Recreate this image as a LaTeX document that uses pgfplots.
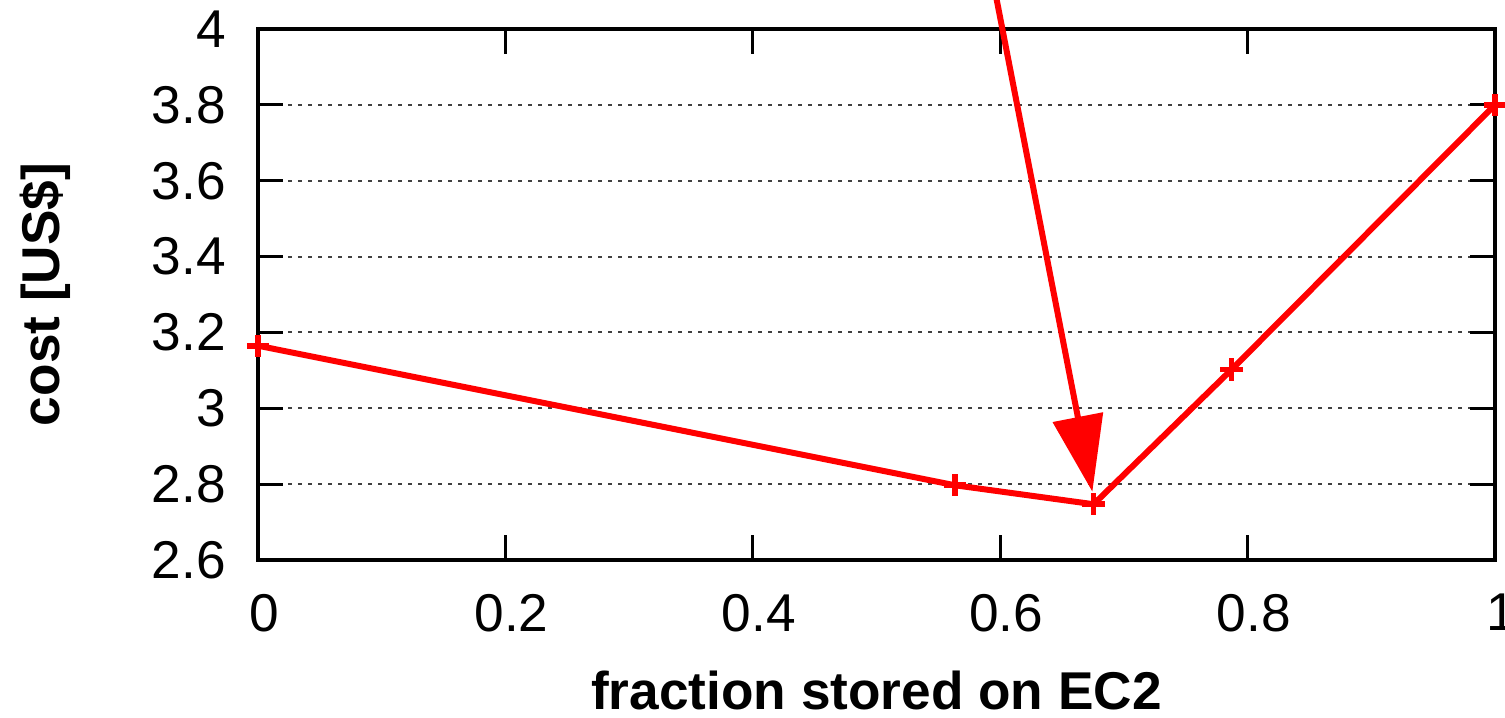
\documentclass[border=0pt]{standalone}
\usepackage{pgfplots}
\pgfplotsset{compat=1.18}
\usepackage{fontspec}
\setmainfont{Liberation Sans}
\usetikzlibrary{arrows.meta}
\begin{document}
\begin{tikzpicture}
\begin{axis}[
  scale only axis,
  width=309.25pt, height=132.75pt,
  xmin=0, xmax=1, ymin=2.6, ymax=4,
  xtick={0,0.2,0.4,0.6,0.8,1},
  ytick={2.6,2.8,3,3.2,3.4,3.6,3.8,4},
  /pgf/number format/assume math mode=true,
  tick label style={font=\fontsize{13.3}{15}\selectfont},
  label style={font=\fontsize{13.3}{15}\selectfont\bfseries},
  xlabel={fraction stored on EC2},
  ylabel={cost [US\$]},
  xlabel style={at={(axis description cs:0.5,-0.245)}, anchor=center},
  ylabel style={at={(axis description cs:-0.172,0.5)}, anchor=center},
  tick align=inside,
  major tick length=6.25pt,
  every tick/.style={black, line width=0.75pt},
  axis line style={line width=1pt},
  ymajorgrids,
  major grid style={dash pattern=on 1pt off 1.5pt, black!75, line width=0.5pt},
  xticklabel style={yshift=-5pt, xshift=1.5pt},
  yticklabel style={xshift=-4.5pt},
  clip=false,
]
\addplot[red, line width=1.5pt, mark=+, mark size=2.8pt, mark options={line width=1.4pt}]
  coordinates {(0,3.165) (0.5635,2.797) (0.6755,2.747) (0.787,3.102) (1,3.80)};
\draw[red, line width=1.5pt, -{Triangle[length=19pt, width=12.5pt]}]
  (axis cs:0.594,4.13) -- (axis cs:0.6745,2.78);
\coordinate (ll) at (rel axis cs:0,0);
\coordinate (ur) at (rel axis cs:1,1);
\end{axis}
\pgfresetboundingbox
\path[use as bounding box] ([shift={(-64.5pt,-39.25pt)}]ll) rectangle ([shift={(2.5pt,7.25pt)}]ur);
\end{tikzpicture}
\end{document}
